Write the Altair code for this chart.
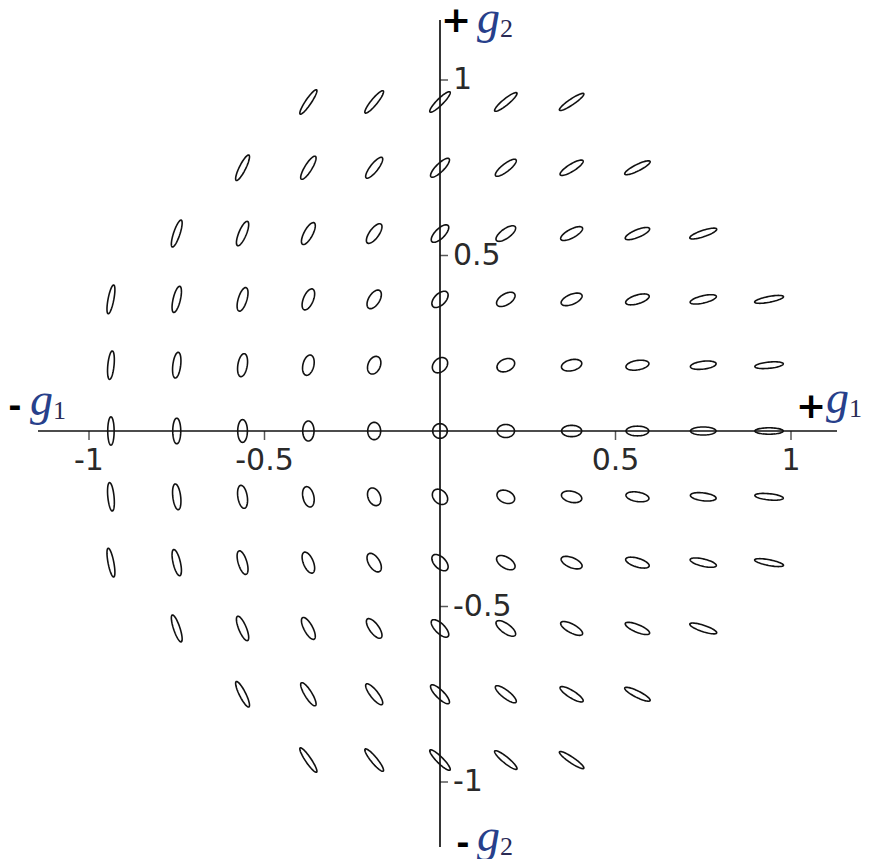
import math

import altair as alt
import pandas as pd

# Shear grid (g1, g2), sampled in steps of 3/16
G_STEPS = [-0.9375, -0.75, -0.5625, -0.375, -0.1875, 0.0,
           0.1875, 0.375, 0.5625, 0.75, 0.9375]
# number of grid columns kept on each side of the g2 axis, top row first
ROW_HALF_SPAN = [2, 3, 4, 5, 5, 5, 5, 5, 4, 3, 2]

TICK_VALUES = [-1.0, -0.5, 0.5, 1.0]
TICK_LABELS = ["-1", "-0.5", "0.5", "1"]

# ---- frame -----------------------------------------------------------
W, H = 878, 859
OX, OY = 440, 431          # pixel position of the origin
PPU = 351.0                # pixels per unit of shear

X_DOMAIN = [(0 - OX) / PPU, (W - OX) / PPU]
Y_DOMAIN = [(OY - H) / PPU, (OY - 0) / PPU]

# extent of the two drawn axis lines (pixels)
X_AXIS_PX = (38, 837)
Y_AXIS_PX = (20, 847)


def to_x(px):
    return (px - OX) / PPU


def to_y(py):
    return (OY - py) / PPU


def X(field):
    return alt.X(field, type="quantitative", axis=None,
                 scale=alt.Scale(domain=X_DOMAIN, nice=False, zero=False))


def Y(field):
    return alt.Y(field, type="quantitative", axis=None,
                 scale=alt.Scale(domain=Y_DOMAIN, nice=False, zero=False))


# ---- ellipse shapes --------------------------------------------------
R0 = 7.3  # radius of the unsheared (circular) image, pixels


def ellipse_path(g1, g2, n=60):
    """Outline of the image of a circle under shear (g1, g2), in pixels."""
    g = math.hypot(g1, g2)
    a = R0 * (1.0 + g)
    b = R0 * (1.0 - 0.6 * g)
    th = 0.5 * math.atan2(g2, g1)
    pts = []
    for i in range(n):
        t = 2 * math.pi * i / n
        x = a * math.cos(t) * math.cos(th) - b * math.sin(t) * math.sin(th)
        y = -(a * math.cos(t) * math.sin(th) + b * math.sin(t) * math.cos(th))
        pts.append(f"{x:.2f},{y:.2f}")
    return "M" + " L".join(pts) + " Z"


rows = []
mid = len(G_STEPS) // 2
for r, half in enumerate(ROW_HALF_SPAN):
    g2 = G_STEPS[len(G_STEPS) - 1 - r]
    for c in range(mid - half, mid + half + 1):
        g1 = G_STEPS[c]
        rows.append({"g1": g1, "g2": g2, "shape": ellipse_path(g1, g2)})
ellipses_df = pd.DataFrame(rows)

ellipses = alt.Chart(ellipses_df).mark_point(
    filled=False, stroke="#111111", strokeWidth=1.6, opacity=1
).encode(
    x=X("g1"),
    y=Y("g2"),
    shape=alt.Shape("shape:N", scale=None),
    size=alt.value(4),  # custom path drawn at 1 unit = 1 pixel
)

# ---- axes ------------------------------------------------------------
axes_df = pd.DataFrame({
    "x0": [to_x(X_AXIS_PX[0]), 0.0],
    "x1": [to_x(X_AXIS_PX[1]), 0.0],
    "y0": [0.0, to_y(Y_AXIS_PX[0])],
    "y1": [0.0, to_y(Y_AXIS_PX[1])],
})
axes = alt.Chart(axes_df).mark_rule(color="#111111", strokeWidth=1.7).encode(
    x=X("x0"), x2="x1", y=Y("y0"), y2="y1"
)

ticks_df = pd.DataFrame({"v": TICK_VALUES, "label": TICK_LABELS, "zero": 0.0})

x_ticks = alt.Chart(ticks_df).mark_tick(
    orient="vertical", size=9, thickness=1.5, yOffset=4.5, color="#111111"
).encode(x=X("v"), y=Y("zero"))

y_ticks = alt.Chart(ticks_df).mark_tick(
    orient="horizontal", size=8, thickness=1.5, xOffset=4, color="#111111"
).encode(x=X("zero"), y=Y("v"))

label_style = dict(font="DejaVu Sans", fontSize=30, color="#2a2a2a")

x_labels = alt.Chart(ticks_df).mark_text(
    align="center", baseline="alphabetic", dy=39, **label_style
).encode(x=X("v"), y=Y("zero"), text="label:N")

y_labels = alt.Chart(ticks_df).mark_text(
    align="left", baseline="middle", dx=13, **label_style
).encode(x=X("zero"), y=Y("v"), text="label:N")

# ---- axis names: sign, italic g, subscript ---------------------------
# sign, subscript, sign centre (px), left edge of g (px), top of g (px)
AXIS_NAMES = [
    ("+", "1", (811, 407), 826, 393),
    ("-", "1", (15, 407), 30, 395),
    ("+", "2", (456, 21), 477, 13),
    ("-", "2", (463, 844), 477, 831),
]

plus_rows, minus_rows, g_rows, sub_rows = [], [], [], []
for sign, sub, (sx, sy), gx, gtop in AXIS_NAMES:
    (plus_rows if sign == "+" else minus_rows).append(
        {"x": to_x(sx), "y": to_y(sy), "t": sign})
    g_rows.append({"x": to_x(gx), "y": to_y(gtop + 20), "t": "g"})
    sub_rows.append({"x": to_x(gx + 23), "y": to_y(gtop + 24), "t": sub})

plus_text = alt.Chart(pd.DataFrame(plus_rows)).mark_text(
    align="center", baseline="middle", font="DejaVu Sans", fontSize=36,
    fontWeight="bold", color="#000000"
).encode(x=X("x"), y=Y("y"), text="t:N")

minus_text = alt.Chart(pd.DataFrame(minus_rows)).mark_text(
    align="center", baseline="middle", font="DejaVu Sans", fontSize=32,
    fontWeight="bold", color="#000000"
).encode(x=X("x"), y=Y("y"), text="t:N")

g_text = alt.Chart(pd.DataFrame(g_rows)).mark_text(
    align="left", baseline="alphabetic", font="Liberation Serif",
    fontSize=46, fontStyle="italic", color="#27408b"
).encode(x=X("x"), y=Y("y"), text="t:N")

sub_text = alt.Chart(pd.DataFrame(sub_rows)).mark_text(
    align="left", baseline="alphabetic", font="Liberation Serif",
    fontSize=26, color="#2a2a55"
).encode(x=X("x"), y=Y("y"), text="t:N")

chart = alt.layer(
    axes, x_ticks, y_ticks, ellipses, x_labels, y_labels,
    plus_text, minus_text, g_text, sub_text
).properties(
    width=W, height=H, padding=0, autosize=alt.AutoSizeParams(type="none"),
    background="white"
).configure_view(stroke=None)

chart.save("out.html", embed_options={"renderer": "svg", "actions": False})
